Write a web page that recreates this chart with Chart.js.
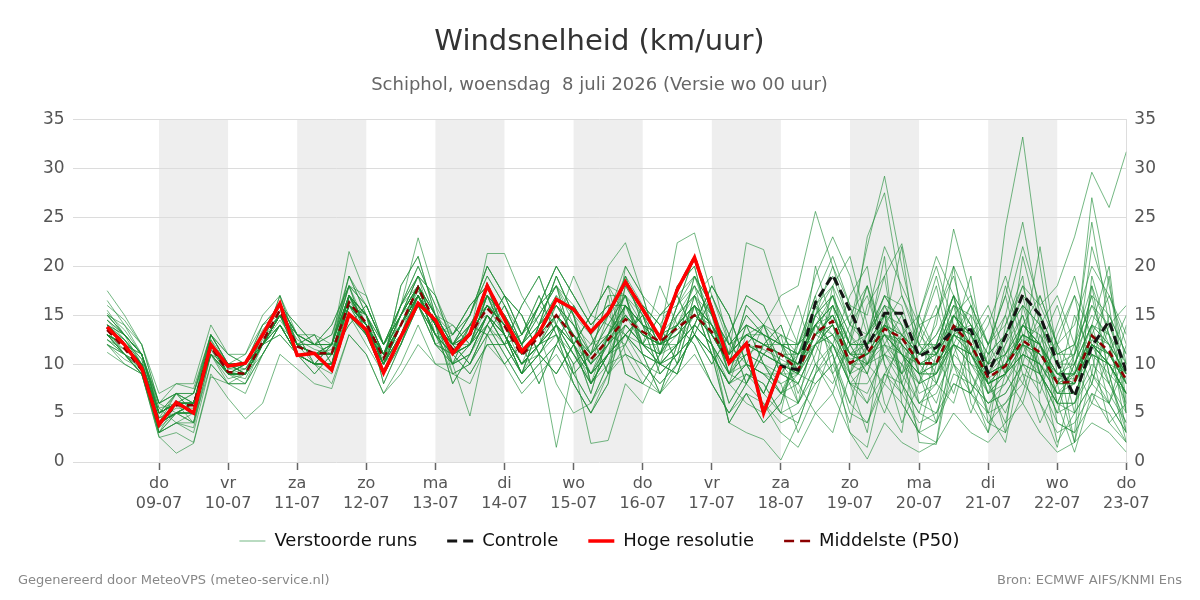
<!DOCTYPE html>
<html>
<head>
<meta charset="utf-8">
<title>Windsnelheid</title>
<script src="https://cdn.jsdelivr.net/npm/chart.js@4.4.1/dist/chart.umd.min.js"></script>
<style>
    body { margin: 0; background: #fff; font-family: 'DejaVu Sans', sans-serif; }
    #wrap { position: relative; width: 1200px; height: 600px; }
    .foot { position: absolute; top: 572px; font-size: 13px; color: #888; }
</style>
</head>
<body>
<div id="wrap">
    <canvas id="windChart"></canvas>
    <div class="foot" style="left:18px">Gegenereerd door MeteoVPS (meteo-service.nl)</div>
    <div class="foot" style="right:18px">Bron: ECMWF AIFS/KNMI Ens</div>
</div>
<script>
// Forecast hours after wo 08-07 00:00 (6-hourly)
const hours = [6,12,18,24,30,36,42,48,54,60, 66,72,78,84,90,96,102,108,114,120,
    126,132,138,144,150,156,162,168,174,180, 186,192,198,204,210,216,222,228,234,240,
    246,252,258,264,270,276,282,288,294,300, 306,312,318,324,330,336,342,348,354,360];

// x-axis: one tick per midnight
const dayTicks = [24,48,72,96,120,144,168,192,216,240,264,288,312,336,360];
const dayNames = ['do','vr','za','zo','ma','di','wo','do','vr','za','zo','ma','di','wo','do'];
const dayDates = ['09-07','10-07','11-07','12-07','13-07','14-07','15-07','16-07',
    '17-07','18-07','19-07','20-07','21-07','22-07','23-07'];
// grey bands start at these hours and last one day
const shadedDays = [24,72,120,168,216,264,312];

// Hoge resolutie (stops at za 18-07)
const hoogRes = [13.8,12.0,9.6,3.8,6.1,5.0,12.0,9.8,10.1,13.0, 16.2,10.9,11.1,9.4,15.1,13.5,9.1,12.8,16.2,14.5,
    11.1,13.1,18.0,14.6,11.3,13.2,16.6,15.6,13.3,15.2, 18.4,15.6,12.7,17.6,20.9,15.6,10.1,12.1,5.0,9.8];

const controle = [13.8,12.0,9.6,3.8,6.1,5.0,12.0,9.8,10.1,13.0, 16.2,10.9,11.1,9.4,15.1,13.5,9.1,12.8,16.2,14.5,
    11.1,13.1,18.0,14.6,11.3,13.2,16.6,15.6,13.3,15.2, 18.4,15.6,12.7,17.6,20.9,15.6,10.1,12.1,5.0,9.8,
    9.4,16.3,19.1,15.5,11.7,15.2,15.2,10.8,11.7,13.5, 13.5,9.1,12.8,17.1,15.0,10.1,6.7,11.8,14.4,9.2];

const mediaan = [13.5,11.6,9.4,4.0,5.8,5.8,11.8,9.2,9.0,12.3, 15.5,11.8,11.1,11.1,16.3,14.2,10.6,14.0,17.8,14.2,
    11.5,13.0,15.7,13.9,10.9,12.8,15.0,12.8,10.5,12.5, 14.6,13.3,12.3,13.7,15.0,13.3,10.3,12.0,11.7,11.0,
    9.4,13.2,14.4,10.1,11.1,13.6,12.7,10.1,10.1,13.9, 12.0,8.6,9.8,12.4,11.2,8.1,8.2,12.9,11.3,8.4];

// Verstoorde runs (ensemble members)
const runs = [
    [15.2,13.5,11,5.5,4,3.5,11,9,8.5,12, 14,11,10,10,17,15,11,13,18,15, 12,12,17,15,11,12,16,13,9,12, 16,14,11,12,16,14,9,11,10,8, 9,15,17,12,9,14,11,8,9,15, 13,7,9,14,12,7,9,14,13,8],
    [12.5,11,9.5,3,6,7,13,10,9,13, 16,12,11,12,18,14,10,15,19,13, 11,14,15,13,10,14,17,12,8,13, 17,12,10,15,18,12,8,13,14,12, 7,11,16,9,12,17,14,6,8,12, 10,9,12,15,9,6,10,16,12,5],
    [14,12.5,10.5,4,5,6,12.5,9,10,13.5, 15.5,12.5,11.5,11,16,14,11,15,17,14, 12,13,17,14,12,16,14,19,15,14, 13,12,18,14,17,19,12,10,14,9, 11,14,12,10,13,15,9,11,13,17, 11,7,8,12,14,10,7,11,10,9],
    [17.5,15,12,7,8,8,14,11,11,15, 17,13,12,13,19,16,12,16,20,16, 13,15,19,16,13,15,18,16,13,15, 19,16,14,17,19,15,12,14,13,12, 11,16,19,14,13,16,15,12,12,17, 14,10,13,16,14,10,11,17,15,11],
    [11.2,10,9,2.5,3,2,9,6.5,4.4,6, 11,9.5,8,7.5,13,11,7,9,12,10, 9,8,12,10,7,9,11,8,5,9, 11,8,7,9,11,8,5,7,6,4, 5,8,10,6,4,9,7,4,5,8, 7,4,6,8,6,3,4,7,6,3],
    [13,12,10,5,7,6,11,10,10,12, 15,11,10,12,17,15,12,14,16,13, 10,11,15,12,9,11,14,11,9,13, 15,12,11,14,16,11,8,9,7,5, 6,10,12,8,7,11,10,6,5,10, 8,6,7,10,9,5,6,9,7,4],
    [14.5,13,11,4,6,4,12,10,9,13, 16,12,12,11,16,15,10,14,18,15, 12,14,16,15,12,14,16,14,11,14, 17,15,13,15,17,15,12,14,13,12, 12,17,21,16,15,22,18,14,15,20, 16,12,15,22,16,12,14,20,17,13],
    [13,11.5,10,4.5,5,5,11.5,9,9.5,12, 14.5,12,11,11,16,13,10,13,17,13, 9,10,13,16,12,8,12,16,13,9, 14,12,10,12,14,12,9,11,10,9, 8,12,14,11,12,15,14,11,13,16, 15,12,14,18,16,18,23,29.6,26,31.7],
    [14,12,10,5,6,5,12,9,9,12, 15,12,11,11,17,14,10,14,17,14, 11,13,16,14,11,13,8,5,6,9, 12,9,7,10,13,11,8,6,5,7, 10,13,14,10,11,14,12,10,11,14, 13,10,24,33.2,20,9,8,12,10,7],
    [13,11,9,4,5,6,12,9.5,10,13, 15,12,11,11,16,14,11,15,18,14, 12,13,16,14,11,13,16,13,11,13, 16,14,12,14,16,14,11,13,13,12, 11,15,18,14,22,29.2,20,12,10,15, 12,9,10,13,11,8,9,13,11,8],
    [14,12,10,4,6,6,12,10,9,12, 15,12,11,12,17,14,11,14,18,15, 13,16,18,13,9,14,19,15,8,11, 15,13,12,14,15,13,10,12,14,17, 18,25.6,20,14,12,13,11,9,10,12, 10,8,9,11,10,7,7,11,9,7],
    [15,14,12,6,7,5,13,11,10,14, 16,13,13,12,18,16,12,15,19,15, 12,14,17,15,12,14,16,14,11,13, 16,13,12,13,16,14,10,12,11,10, 8,12,16,12,23,27.5,17,13,11,14, 12,9,11,14,12,8,11,27,18,10],
    [12,10.5,9.5,3,4,5,11,8,9,11, 14,11,10,10,15,13,9,13,16,12, 10,11,14,12,9,11,14,11,8,11, 13,10,9,11,13,11,8,10,9,7, 6,9,11,5,4,8,6,3,4,8, 7,5,6,9,8,4,3,6,5,2],
    [16,14.5,12,6,8,7.5,13,10,10,13, 16,13,12,12,17,15,11,15,18,14, 11,12,17,15,12,15,18,14,10,15, 17,12,11,16,19,14,9,12,14,13, 11,14,15,11,13,17,16,10,8,13, 14,11,13,17,15,11,12,16,14,9],
    [13.5,11,9,3.5,5,4,10,8,7,11, 14,11,10,10,15,13,10,12,16,13, 11,12,15,13,10,11,13,11,8,10, 13,11,10,11,13,11,8,10,9,8, 3,7,12,17,20,10,4,8,15,19, 12,5,2,11,15,6,1,7,4,2],
    [14,12,10,4,5,5,12,9,9,12, 15,12,11,11,16,14,10,14,17,14, 11,13,16,14,10,12,15,12,9,12, 14,12,10,12,14,12,9,8,6,3, 1.5,5,7,3,0.3,4,2,1,2,5, 3,2,4,6,3,1,2,4,3,1],
    [13,12,11,5,6,6,12,10,10,12, 15,12,11,11,16,15,11,14,17,14, 12,15,20,17,13,16,20,17,14,16, 16,14,13,14,16,13,11,13,12,11, 10,13,15,12,12,14,13,11,11,14, 13,10,11,13,12,9,9,13,12,9],
    [15,13,10,3,4,3,10,8,8,11, 14,12,10,10,17,14,10,13,17,14, 11,14,17,13,9,12,15,12,10,12, 14,12,12,12,15,14,10,11,12,12, 12,14,12,9,10,11,13,11,12,15, 12,8,9,12,10,8,9,12,10,7],
    [12,11,10,4,7,7,12,9,10,13, 16,12,11,12,17,15,11,15,18,14, 8,11,15,12,13,17,13,8,5,8, 16,14,12,14,18,15,11,13,12,11, 10,14,17,13,11,12,10,8,9,12, 11,8,10,14,12,9,8,13,11,8],
    [14.5,13,11,6,7,6,13,11,10,14, 16,13,12,12,21.5,17,12,16,22.9,17, 13,15,19,16,12,14,17,15,11,14, 17,14,12,15,17,14,11,13,12,11, 10,14,16,12,13,16,13,10,11,15, 13,9,10,13,12,9,10,14,12,9],
    [13,12,10,5,6,5,12,9,9,12, 15,12,11,11,16,14,10,14,17,14, 11,13,21.3,21.3,17,14,16,14,12,13, 15,13,12,13,15,13,10,12,11,10, 9,13,15,11,11,13,12,10,10,13, 12,8,10,12,11,8,8,12,11,8],
    [13,11,9,3,5,6,11,9,10,12, 15,11,10,10,16,13,9,12,16,12, 10,4.7,13,13,10,12,14,12,9,11, 14,12,11,13,15,13,10,12,11,10, 9,12,14,10,10,13,11,9,10,13, 11,8,9,11,10,7,8,11,10,7],
    [14,12,10,4,5,5,12,9,9,12, 15,12,11,12,17,15,11,14,17,14, 12,13,16,13,9,11,1.5,10,1.9,2.2, 8,6,10,12,14,12,9,10,9,9, 8,12,13,10,11,13,11,9,9,12, 11,8,9,11,10,7,7,11,10,7],
    [14,13,11,5,6,6,12,10,10,13, 15,12,11,11,17,15,11,15,18,15, 12,14,17,15,12,15,18,15,13,20, 22.4,17,15,16,18,15,12,14,13,12, 11,14,16,12,12,14,13,11,11,15, 13,10,11,14,13,10,10,14,12,9],
    [13,12,10,5,6,6,12,9,9,12, 15,12,11,11,16,14,11,14,17,14, 12,13,16,14,11,13,15,13,11,13, 16,14,13,22.4,23.4,17,12,13,12,11, 10,13,15,11,11,14,12,10,10,13, 12,9,10,13,12,9,9,13,11,8],
    [14,12,10,4,5,5,11,9,9,12, 15,12,11,11,16,14,10,14,17,14, 11,13,16,14,11,13,15,13,10,12, 15,13,12,14,16,14,11,22.4,21.7,16, 12,14,13,10,11,14,12,10,10,13, 11,8,9,12,11,8,8,12,10,7],
    [13,11,9,4,6,6,12,9,9,12, 15,12,11,11,16,14,10,13,17,13, 11,12,15,13,10,12,14,12,9,11, 13,11,10,12,14,12,4,3,2.3,0.2, 4,9,12,8,8,11,9,6,7,11, 9,6,7,10,9,6,6,10,8,5],
    [14,12.5,10,5,6,5,12,10,10,13, 15,12,11,11,17,14,11,14,18,14, 12,10,14,17,15,11,9,12,15,18, 15,13,12,13,15,13,10,12,11,10, 10,14,16,12,12,15,13,11,14,23.8, 17,12,17,24.5,15,11,12,24.5,14,10],
    [13,12,10,5,6,6,12,9,9,12, 15,12,11,11,16,14,11,14,17,14, 10,14,13,10,12,16,18,12,7,13, 19,14,9,11,17,12,6,9,8,5, 13,19,23,19,13,19,22.3,14,11,16, 14,11,13,16,14,11,11,15,13,10],
    [12,11,10,4,5,6,12,9,9,12, 14,11,10,10,15,13,10,13,16,13, 11,12,15,13,10,12,14,12,9,11, 12,16,14,10,13,17,13,8,11,13, 6,14,11,3,1.5,9,12,2,1.8,11, 15,4,3,16,10,2,5,18,9,2],
    [16.5,14,11,5,6,6,13,10,10,13, 16,13,12,12,18,16,12,15,19,15, 14,12,17,13,10,12,13,10,12,15, 20,17,11,16,21,15,9,14,10,7, 11,13,12,8,6,9,8,5,4,9, 8,6,8,11,9,6,5,8,6,3],
    [13.5,12,10,4.5,7,5,12,10,10,12, 15,13,10,12,19,15,8,12,17,13, 11,9,12,12,16,19,14,9,11,17, 9,8,11,14,12,8,5,8,12,14, 9,12,13,15,18,12,9,15,20,14, 11,14,19,13,9,14,19,12,8,14],
    [14,12,10,4,5,6,12,9,9,12, 17,12,13,10,17,13,11,16,19,17, 12,10,14,17,15,11,9,12,15,18, 17,11,7,12,19,16,11,15,13,9, 9,8,10,14,17,11,8,13,18,10, 7,12,17,10,7,13,17,9,6,12],
    [13,12,11,5.5,6,7,12.5,10,9.5,12, 13,11,9,11,14,16,12,15,18,12, 13,16,18,13,9,14,19,15,8,11, 13,15,10,9,14,18,15,10,7,11, 10,12,14,11,10,12,11,10,10,12, 11,9,10,12,11,9,9,12,11,9],
    [14.5,12.5,10.5,4,5,5,11.5,9,9,12, 15,11,10,8,13,11,7,10,14,10, 10,12,14,11,8,10,12,9,6,10, 11,10,8,10,16,11,4,7,4,6, 12,17,9,4,12,21,6,3,10,20, 8,3,9,21,14,4,3,19,13,3],
    [13,11,9.5,3,4,4,11,9,10,13, 16,14,12,14,18,13,10,18,21,15, 12,15,20,17,13,16,20,17,14,16, 16,12,15,17,13,10,13,17,16,12, 10,15,17,10,9,15,11,7,8,14, 12,7,9,14,12,6,6,12,10,6],
    [15,13,11,5,7,7,13,10,11,14, 15,12,12,12,17,15,12,16,18,15, 9,10,13,16,12,8,12,16,13,9, 18,15,12,18,20,13,10,16,14,10, 9,13,15,11,10,13,11,9,9,13, 12,9,10,13,12,8,8,12,10,7],
    [12.5,11,9,2.6,0.9,1.9,8.7,8,8,11, 14,11,10,10,15,13,9,12,16,13, 10,11,15,12,9,11,14,11,8,11, 13,11,10,11,13,11,8,10,9,7, 9,20,14,8,3,14,22,9,4,15, 17,8,4,12,22,11,2,14,20,6],
    [14,12,10,4,6,5,12,9,9,12, 15,12,11,11,16,14,10,14,17,14, 8,11,15,12,13,17,13,8,5,8, 20,17,11,16,21,15,9,14,10,7, 8,5,3,9,16,19,8,3,2,13, 19,9,3,7,13,8,2,9,19,5],
    [13,12,10,5,6,6,12,10,9,12, 13,11,9,11,14,16,12,15,18,12, 11,13,16,14,11,13,15,13,10,12, 19,14,9,11,17,12,6,9,8,5, 4,9,18,21,14,6,3,15,21,17, 6,3,14,19,6,1.5,9,22,16,5],
    [15.5,13,11,6,5,4,12,9,8,12, 14,11,10,10,16,14,11,14,17,13, 14,12,17,13,10,12,13,10,12,15, 13,15,10,9,14,18,15,10,7,11, 11,16,18,9,6,12,15,9,6,12, 16,8,5,10,17,12,5,8,15,11],
    [12,10,9,3,5,6,11,8.5,9,12, 15,12,11,11,17,14,10,13,17,14, 11,12,16,14,11,13,15,13,10,13, 12,16,14,10,13,17,13,8,11,13, 12,15,13,8,10,16,12,8,12,17, 10,7,12,17,9,6,10,14,8,4],
    [14,12,10,4,6,6,12,9,10,13, 16,13,12,13,18,17,12,16,20,16, 10,14,13,10,12,16,18,12,7,13, 16,12,15,17,13,10,13,17,16,12, 9,15,20,16,10,8,13,15,11,7, 13,16,11,8,14,17,12,8,14,16],
    [13.5,12.5,10,5,6,6,12,9,9,12, 15,13,10,12,19,15,8,12,17,13, 12,10,14,17,15,11,9,12,15,18, 11,10,8,10,16,11,4,7,4,6, 11,12,9,12,18,13,9,12,16,10, 5,10,15,9,4,8,15,11,4,6],
    [14,12,10,4,6,5,12,10,9,13, 15,12,11,11,17,14,11,14,18,14, 11,9,12,12,16,19,14,9,11,17, 17,11,7,12,19,16,11,15,13,9, 12,16,14,9,13,17,14,9,12,17, 14,9,13,18,12,8,12,18,13,8],
    [13,12,10,4,5,6,12,9,9,12, 17,12,13,10,17,13,11,16,19,17, 12,15,20,17,13,16,20,17,14,16, 9,8,11,14,12,8,5,8,12,14, 9,16,11,6,12,15,8,5,11,16, 9,5,11,15,9,5,11,17,9,3],
    [15,13,11,6,7,6,12,10,10,13, 16,14,12,14,18,13,10,18,21,15, 10,12,14,11,8,10,12,9,6,10, 16,14,13,14,16,14,11,13,12,11, 10,13,17,13,10,14,17,12,9,13, 16,12,9,14,17,12,9,13,17,12],
    [12.5,11.5,10,4,5,5,11,9,9,12, 14,11,10,9,15,12,9,13,16,12, 11,12,15,13,10,12,14,12,9,11, 18,15,12,18,20,13,10,16,14,10, 6,10,8,12,9,5,10,14,8,6, 12,15,9,6,12,16,10,6,11,15],
    [14,13,11,5,6,6,12,10,10,12, 15,12,11,11,16,14,11,14,17,14, 13,16,18,13,9,14,19,15,8,11, 13,15,10,9,14,18,15,10,7,11, 16,10,7,13,18,10,7,13,19,12, 7,11,18,12,8,12,17,13,6,10],
    [13,12,10,4.5,5.5,5.5,12,9.5,9.5,12.5, 15,12,11,11.5,16.5,14,10.5,14,17.5,14, 11.5,13,16,14,11,13,15,13,10.5,12.5, 15,13,12,13.5,15,13,10.5,12,11.5,10.5, 9.5,13,14,10.5,11,13,12.5,10,10,13.5, 12,8.5,10,12.5,11,8.5,8.5,12.5,11,8.5]
];

function toPoints(values) {
    return values.map((v, i) => ({ x: hours[i], y: v }));
}

// first dataset is drawn on top; rank sets the legend order
const datasets = [
    { label: 'Hoge resolutie', data: toPoints(hoogRes), borderColor: '#ff0000', backgroundColor: '#ff0000', borderWidth: 3.5, rank: 2 },
    { label: 'Controle', data: toPoints(controle), borderColor: '#151515', backgroundColor: '#151515', borderWidth: 3, borderDash: [9, 5], rank: 1 },
    { label: 'Middelste (P50)', data: toPoints(mediaan), borderColor: '#8b0000', backgroundColor: '#8b0000', borderWidth: 2.5, borderDash: [7, 5], rank: 3 }
];
runs.forEach(run => {
    datasets.push({ label: 'Verstoorde runs', data: toPoints(run), borderColor: 'rgba(30,140,55,0.62)', backgroundColor: 'rgba(30,140,55,0.62)', borderWidth: 1, rank: 0 });
});

// grey background for every other day
const dayBands = {
    id: 'dayBands',
    beforeDraw(chart) {
        const { ctx, chartArea, scales: { x } } = chart;
        ctx.save();
        ctx.fillStyle = '#eeeeee';
        shadedDays.forEach(start => {
            const x0 = x.getPixelForValue(start);
            const x1 = x.getPixelForValue(start + 24);
            ctx.fillRect(x0, chartArea.top, x1 - x0, chartArea.bottom - chartArea.top);
        });
        ctx.restore();
    }
};

Chart.defaults.font.family = "'DejaVu Sans', sans-serif";

const yAxis = {
    min: 0,
    max: 35,
    ticks: { stepSize: 5, color: '#555', font: { size: 17 }, padding: 8 },
    border: { display: false }
};

// legend samples: same colour and width as the line, two dashes for dashed lines
function legendLabels(chart) {
    const items = Chart.defaults.plugins.legend.labels.generateLabels(chart);
    items.forEach(item => {
        const ds = chart.data.datasets[item.datasetIndex];
        item.lineDash = ds.borderDash ? [10, 6] : [];
        item.lineWidth = ds.borderWidth;
        item.strokeStyle = ds.borderColor;
    });
    return items;
}

new Chart(document.getElementById('windChart'), {
    type: 'line',
    data: { datasets: datasets },
    plugins: [dayBands],
    options: {
        responsive: true,
        maintainAspectRatio: false,
        animation: false,
        elements: { point: { radius: 0 }, line: { tension: 0 } },
        layout: { padding: { left: 35, right: 36, top: 10, bottom: 40 } },
        scales: {
            x: {
                type: 'linear',
                min: -6,
                max: 360,
                afterBuildTicks: scale => { scale.ticks = dayTicks.map(v => ({ value: v })); },
                afterFit: scale => {
                    // keep the axis box short so the legend can sit close; labels may overflow it
                    scale.height = 40;
                    scale._computeLabelArea = () => undefined;
                },
                ticks: {
                    autoSkip: false,
                    maxRotation: 0,
                    color: '#555',
                    font: { size: 16, lineHeight: 1.3 },
                    padding: 3,
                    callback: (value, index) => [dayNames[index], dayDates[index]]
                },
                grid: { drawOnChartArea: false, drawTicks: true, tickLength: 8, tickColor: '#666', tickWidth: 1.5 },
                border: { display: false }
            },
            y: Object.assign({}, yAxis, {
                position: 'left',
                grid: { color: '#dcdcdc', drawTicks: false }
            }),
            y2: Object.assign({}, yAxis, {
                position: 'right',
                grid: { drawOnChartArea: false, drawTicks: false },
                border: { display: true, color: '#dddddd' }
            })
        },
        plugins: {
            title: {
                display: true,
                text: 'Windsnelheid (km/uur)',
                color: '#333',
                font: { size: 29, weight: 'normal' },
                padding: { top: 15, bottom: 15 }
            },
            subtitle: {
                display: true,
                text: 'Schiphol, woensdag  8 juli 2026 (Versie wo 00 uur)',
                color: '#666',
                font: { size: 18 },
                padding: { top: 0, bottom: 23 }
            },
            legend: {
                position: 'bottom',
                labels: {
                    usePointStyle: true,
                    pointStyle: 'line',
                    pointStyleWidth: 26,
                    color: '#111',
                    font: { size: 18 },
                    padding: 30,
                    generateLabels: legendLabels,
                    filter: item => item.datasetIndex < 4,
                    sort: (a, b, data) => data.datasets[a.datasetIndex].rank - data.datasets[b.datasetIndex].rank
                }
            },
            tooltip: { enabled: false }
        }
    }
});
</script>
</body>
</html>
